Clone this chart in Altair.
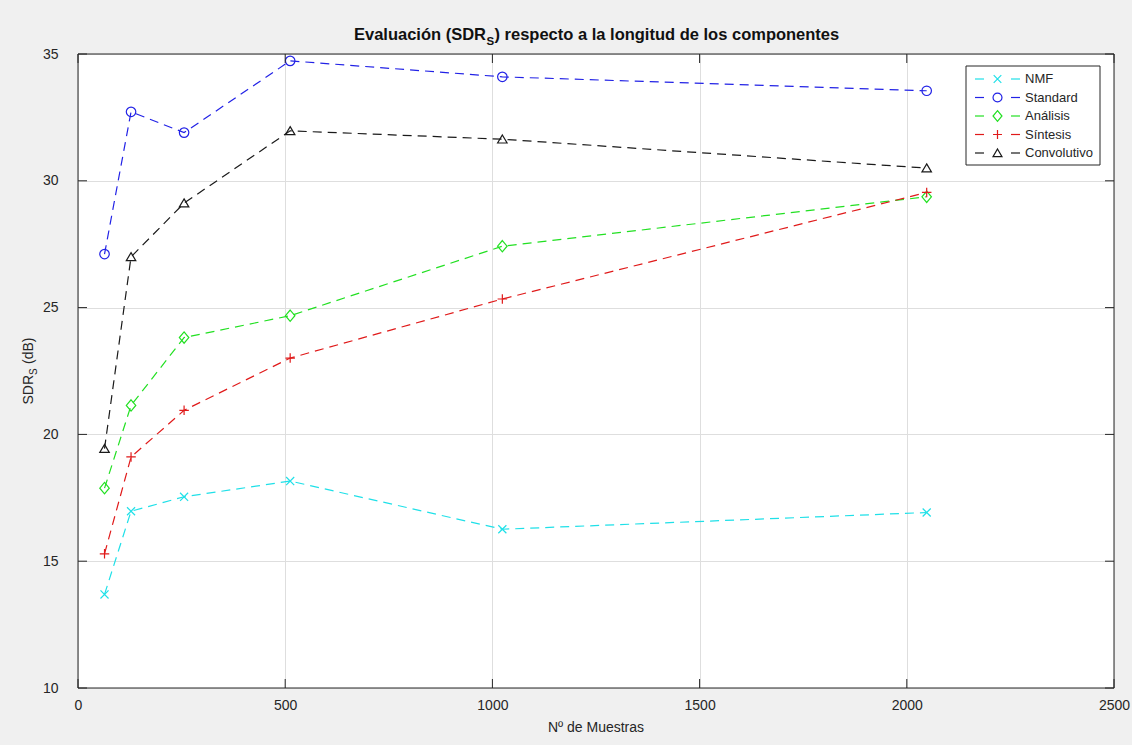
import altair as alt
import pandas as pd

# Samples per component (x) and SDR_S in dB for each method
muestras = [64, 128, 256, 512, 1024, 2048]
series_names = ["NMF", "Standard", "Análisis", "Síntesis", "Convolutivo"]
nmf = [13.69, 16.97, 17.54, 18.16, 16.26, 16.92]
standard = [27.11, 32.72, 31.90, 34.73, 34.10, 33.55]
analisis = [17.88, 21.14, 23.82, 24.68, 27.42, 29.37]
sintesis = [15.29, 19.11, 20.95, 23.01, 25.34, 29.54]
convolutivo = [19.44, 27.00, 29.12, 31.97, 31.64, 30.50]
x_ticks = [0, 500, 1000, 1500, 2000, 2500]
y_ticks = [10, 15, 20, 25, 30, 35]

# Styles (MATLAB-like line colours and markers)
colors = ["#1fe0e8", "#2222e6", "#22e022", "#e01a1a", "#1a1a1a"]
shapes = [
    "M-0.85,-0.85L0.85,0.85M-0.85,0.85L0.85,-0.85",   # x
    "circle",                                          # o
    "M0,-1.2L1,0L0,1.2L-1,0Z",                         # diamond
    "M-1,0L1,0M0,-1L0,1",                              # +
    "M0,-0.9L1,0.8L-1,0.8Z",                           # triangle up
]

W, H = 1036, 634
FONT = "Liberation Sans"
INK = "#262626"

rows = []
for name, vals in zip(series_names, [nmf, standard, analisis, sintesis, convolutivo]):
    for m, v in zip(muestras, vals):
        rows.append({"serie": name, "muestras": m, "sdr": v})
df = pd.DataFrame(rows)

xs = alt.Scale(domain=[0, 2500], nice=False, zero=False)
ys = alt.Scale(domain=[10, 35], nice=False, zero=False)
color_scale = alt.Scale(domain=series_names, range=colors)
shape_scale = alt.Scale(domain=series_names, range=shapes)

x_axis = alt.Axis(values=x_ticks, format="d", title=None, tickSize=0, domain=False, grid=True,
                  gridColor="#dedede", gridWidth=1, labelFont=FONT, labelFontSize=14,
                  labelColor=INK, labelPadding=10, labelFlush=False)
y_axis = alt.Axis(values=y_ticks, format="d", title=None, tickSize=0, domain=False, grid=True,
                  gridColor="#dedede", gridWidth=1, labelFont=FONT, labelFontSize=14,
                  labelColor=INK, labelPadding=20, labelFlush=False)


def X(field):
    return alt.X(field, scale=xs, axis=x_axis)


def Y(field):
    return alt.Y(field, scale=ys, axis=y_axis)


base = alt.Chart(df)
lines = base.mark_line(strokeDash=[9, 6], strokeWidth=1.2).encode(
    x=X("muestras:Q"),
    y=Y("sdr:Q"),
    color=alt.Color("serie:N", scale=color_scale, legend=None),
)
points = base.mark_point(filled=False, size=90, strokeWidth=1.2, opacity=1).encode(
    x=X("muestras:Q"),
    y=Y("sdr:Q"),
    color=alt.Color("serie:N", scale=color_scale, legend=None),
    shape=alt.Shape("serie:N", scale=shape_scale, legend=None),
)

# Inward tick marks on all four sides of the box
xt = pd.DataFrame({"muestras": x_ticks})
yt = pd.DataFrame({"sdr": y_ticks})
TL = 9
tick_style = dict(color=INK, strokeWidth=1)
ticks = [
    alt.Chart(xt).mark_rule(**tick_style).encode(
        x=X("muestras:Q"), y=alt.value(H), y2=alt.value(H - TL)),
    alt.Chart(xt).mark_rule(**tick_style).encode(
        x=X("muestras:Q"), y=alt.value(0), y2=alt.value(TL)),
    alt.Chart(yt).mark_rule(**tick_style).encode(
        y=Y("sdr:Q"), x=alt.value(0), x2=alt.value(TL)),
    alt.Chart(yt).mark_rule(**tick_style).encode(
        y=Y("sdr:Q"), x=alt.value(W), x2=alt.value(W - TL)),
]

one = pd.DataFrame({"k": [0]})
frame = alt.Chart(one).mark_rect(fill="transparent", stroke=INK, strokeWidth=1).encode(
    x=alt.value(0), x2=alt.value(W), y=alt.value(0), y2=alt.value(H))

# Legend box with dashed-line samples and markers
LX0, LX1, LY0, LY1 = 888, 1022, 12, 111
legend_layers = [
    alt.Chart(one).mark_rect(fill="white", stroke=INK, strokeWidth=1).encode(
        x=alt.value(LX0), x2=alt.value(LX1), y=alt.value(LY0), y2=alt.value(LY1))
]
for i, name in enumerate(series_names):
    ly = 25 + i * 18.5
    ld = pd.DataFrame({"serie": [name]})
    col = alt.Color("serie:N", scale=color_scale, legend=None)
    legend_layers += [
        alt.Chart(ld).mark_rule(strokeWidth=1.2).encode(
            x=alt.value(897), x2=alt.value(906), y=alt.value(ly), color=col),
        alt.Chart(ld).mark_rule(strokeWidth=1.2).encode(
            x=alt.value(933), x2=alt.value(942), y=alt.value(ly), color=col),
        alt.Chart(ld).mark_point(filled=False, size=80, strokeWidth=1.2, opacity=1).encode(
            x=alt.value(919.5), y=alt.value(ly), color=col,
            shape=alt.Shape("serie:N", scale=shape_scale, legend=None)),
        alt.Chart(ld).mark_text(align="left", baseline="middle", font=FONT, fontSize=13,
                                color=INK).encode(
            x=alt.value(947), y=alt.value(ly), text="serie:N"),
    ]

# Title with subscript S
T_ANCHOR = 408
title_layers = [
    alt.Chart(one).mark_text(text="Evaluación (SDR", align="right", baseline="alphabetic",
                             font=FONT, fontSize=16.5, fontWeight="bold", color="#111111").encode(
        x=alt.value(T_ANCHOR), y=alt.value(-14)),
    alt.Chart(one).mark_text(text="S", align="left", baseline="alphabetic",
                             font=FONT, fontSize=11.5, fontWeight="bold", color="#111111").encode(
        x=alt.value(T_ANCHOR + 0.5), y=alt.value(-9)),
    alt.Chart(one).mark_text(text=") respecto a la longitud de los componentes", align="left",
                             baseline="alphabetic", font=FONT, fontSize=16.5, fontWeight="bold",
                             color="#111111").encode(
        x=alt.value(T_ANCHOR + 8.5), y=alt.value(-14)),
]

# Axis titles
Y_ANCHOR = 321
label_layers = [
    alt.Chart(one).mark_text(text="Nº de Muestras", align="center", baseline="alphabetic",
                             font=FONT, fontSize=14, color=INK).encode(
        x=alt.value(W / 2), y=alt.value(678)),
    alt.Chart(one).mark_text(text="SDR", align="right", baseline="alphabetic", angle=270,
                             font=FONT, fontSize=14, color=INK).encode(
        x=alt.value(-45), y=alt.value(Y_ANCHOR)),
    alt.Chart(one).mark_text(text="S", align="left", baseline="alphabetic", angle=270,
                             font=FONT, fontSize=10, color=INK).encode(
        x=alt.value(-41), y=alt.value(Y_ANCHOR)),
    alt.Chart(one).mark_text(text="(dB)", align="left", baseline="alphabetic", angle=270,
                             font=FONT, fontSize=14, color=INK).encode(
        x=alt.value(-45), y=alt.value(Y_ANCHOR - 11)),
]

chart = alt.layer(lines, points, *ticks, frame, *legend_layers, *title_layers,
                  *label_layers).properties(
    width=W, height=H,
    background="#f0f0f0",
    padding={"left": 78, "top": 54, "right": 18, "bottom": 57},
    autosize=alt.AutoSizeParams(type="none"),
).configure_view(fill="white", strokeOpacity=0)

chart.save("out.html", embed_options={"renderer": "svg", "actions": False})
